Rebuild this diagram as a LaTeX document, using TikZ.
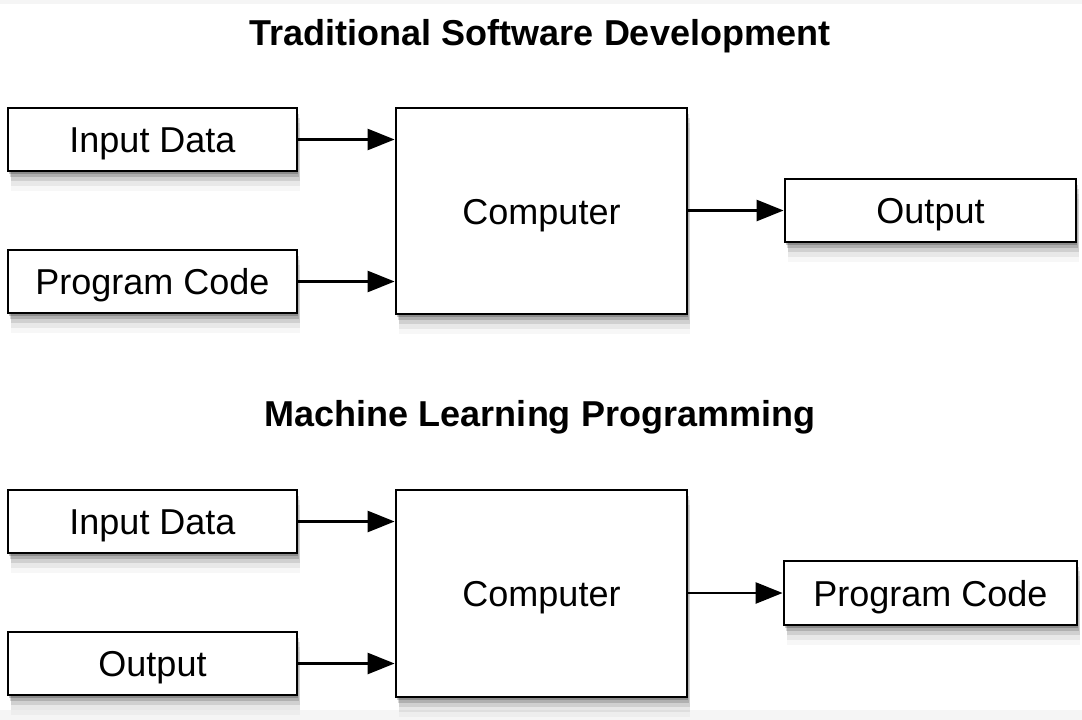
\documentclass[tikz,border=0pt]{standalone}
\usepackage{fontspec}
\setmainfont{Liberation Sans}
\usetikzlibrary{arrows.meta,shadows}
\definecolor{bandgray}{HTML}{F5F5F5}
\tikzset{
  softshadow/.style={
    general shadow={fill=black,opacity=0.20,shadow xshift=1pt,shadow yshift=-3pt},
    general shadow={fill=black,opacity=0.15,shadow xshift=2pt,shadow yshift=-6pt},
    general shadow={fill=black,opacity=0.10,shadow xshift=3pt,shadow yshift=-10pt},
    general shadow={fill=black,opacity=0.06,shadow xshift=3pt,shadow yshift=-15pt},
    general shadow={fill=black,opacity=0.03,shadow xshift=3pt,shadow yshift=-20pt}},
  box/.style={draw=black, fill=white, line width=2.8pt, softshadow,
    inner sep=0pt, text height=26pt, text depth=0pt,
    font=\fontsize{36}{43}\selectfont},
  smallbox/.style={box, minimum width=289pt, minimum height=63pt},
  bigbox/.style={box, minimum width=291pt, minimum height=206pt},
  title/.style={font=\fontsize{36}{43}\selectfont\bfseries, inner sep=0pt,
    text height=26pt, text depth=0pt},
  arr/.style={line width=2.6pt, -{Triangle[length=27pt,width=21pt]}}
}
\begin{document}
\begin{tikzpicture}[x=1pt,y=-1pt]
\useasboundingbox (0,0) rectangle (1082,720);
\fill[white] (0,0) rectangle (1082,720);
\fill[bandgray] (0,0) rectangle (1082,4);
\fill[bandgray] (0,710) rectangle (1082,720);

% Top section
\node[title] (t1) at (540,32) {Traditional Software Development};
\node[smallbox] (in1) at (152.5,139.5) {Input Data};
\node[smallbox] (pc1) at (152.5,281.5) {Program Code};
\node[bigbox] (comp1) at (541.5,211) {Computer};
\node[smallbox, minimum width=291pt] (out1) at (930.5,210.5) {Output};
\draw[arr] (in1.east) -- (in1.east -| comp1.west);
\draw[arr] (pc1.east) -- (pc1.east -| comp1.west);
\draw[arr] (comp1.east |- out1.west) -- (out1.west);

% Bottom section
\node[title] (t2) at (540,413) {Machine Learning Programming};
\node[smallbox] (in2) at (152.5,521.5) {Input Data};
\node[smallbox] (out2) at (152.5,663.5) {Output};
\node[bigbox, minimum height=207pt] (comp2) at (541.5,593.5) {Computer};
\node[smallbox, minimum width=293pt, minimum height=64pt] (pc2) at (930.5,593) {Program Code};
\draw[arr] (in2.east) -- (in2.east -| comp2.west);
\draw[arr] (out2.east) -- (out2.east -| comp2.west);
\draw[arr] (comp2.east |- pc2.west) -- (pc2.west);
\end{tikzpicture}
\end{document}
